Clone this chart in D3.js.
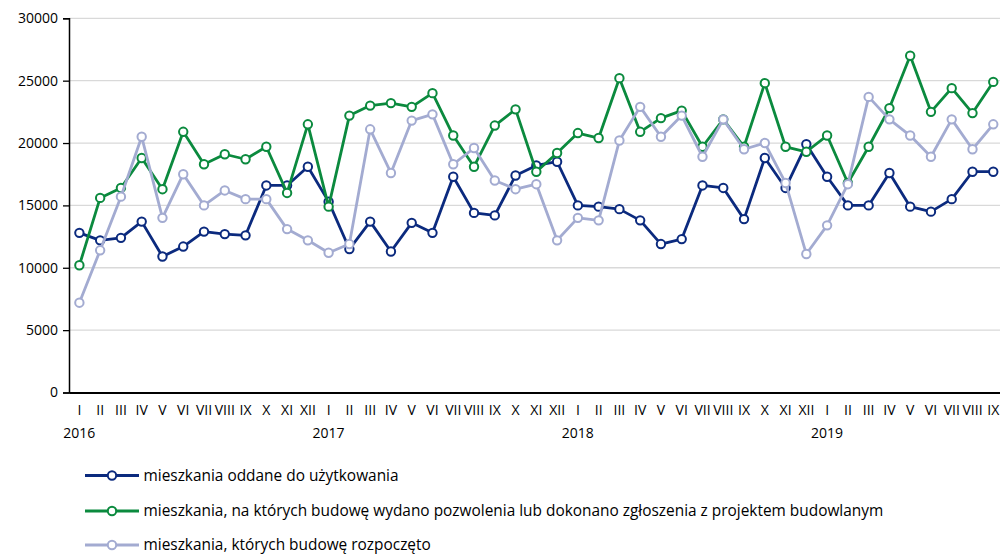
<!DOCTYPE html>
<html><head><meta charset="utf-8">
<script src="https://cdn.jsdelivr.net/npm/d3@7/dist/d3.min.js"></script>
<style>body{margin:0;background:#fff}svg{display:block}</style>
</head><body><svg id="c" width="1000" height="554"></svg>
<script>
const months = ["I","II","III","IV","V","VI","VII","VIII","IX","X","XI","XII"];
const years = ["2016","2017","2018","2019"];
const nPoints = 45;
const oddane = [12800,12200,12400,13700,10900,11700,12900,12700,12600,16600,16600,18100,
 15300,11500,13700,11300,13600,12800,17300,14400,14200,17400,18200,18500,
 15000,14900,14700,13800,11900,12300,16600,16400,13900,18800,16400,19900,
 17300,15000,15000,17600,14900,14500,15500,17700,17700];
const pozwolenia = [10200,15600,16400,18800,16300,20900,18300,19100,18700,19700,16000,21500,
 14900,22200,23000,23200,22900,24000,20600,18100,21400,22700,17700,19200,
 20800,20400,25200,20900,22000,22600,19700,21900,19700,24800,19700,19300,
 20600,16800,19700,22800,27000,22500,24400,22400,24900];
const rozpoczete = [7200,11400,15700,20500,14000,17500,15000,16200,15500,15500,13100,12200,
 11200,11900,21100,17600,21800,22300,18300,19600,17000,16300,16700,12200,
 14000,13800,20200,22900,20500,22200,18900,21900,19500,20000,16800,11100,
 13400,16700,23700,21900,20600,18900,21900,19500,21500];
const yTicks = [0,5000,10000,15000,20000,25000,30000];
const seriesNames = ["mieszkania oddane do użytkowania",
 "mieszkania, na których budowę wydano pozwolenia lub dokonano zgłoszenia z projektem budowlanym",
 "mieszkania, których budowę rozpoczęto"];

const colors = ["#0b2a7e","#0b8a3e","#a3abd1"];
const series = [oddane, pozwolenia, rozpoczete];

const svg = d3.select("#c");
const x0 = 69, step = 20.77, yTop = 18.3, yBot = 392.5;
const idx = d3.range(nPoints);
const x = d3.scaleBand().domain(idx).range([x0, x0 + step*nPoints]).padding(0);
const y = d3.scaleLinear().domain([0,30000]).range([yBot, yTop]);
const cx = i => x(i) + x.bandwidth()/2;
const font = "'Open Sans', 'DejaVu Sans', sans-serif";

// grid
svg.append("g").selectAll("line").data(yTicks.filter(d=>d>0)).join("line")
  .attr("x1", x0).attr("x2", 1000).attr("y1", d=>y(d)).attr("y2", d=>y(d))
  .attr("stroke", "#d9d9d9").attr("stroke-width", 1.3);

// y axis
const yAxis = d3.axisLeft(y).tickValues(yTicks).tickSize(6).tickPadding(5).tickFormat(d3.format("d"));
const gy = svg.append("g").attr("transform", `translate(${x0},0)`).call(yAxis);
gy.select(".domain").attr("stroke","#000").attr("stroke-width",1.5);
gy.selectAll(".tick line").attr("stroke","#000").attr("stroke-width",1.3);
gy.selectAll(".tick text").attr("font-family", font).attr("font-size", 14).attr("fill","#000");

// x axis
const xAxis = d3.axisBottom(x).tickSize(0).tickPadding(13).tickFormat(i => months[i % 12]);
const gx = svg.append("g").attr("transform", `translate(0,${yBot})`).call(xAxis);
gx.select(".domain").attr("stroke","#000").attr("stroke-width",2.2);
gx.selectAll(".tick text").attr("font-family", font).attr("font-size", 14).attr("fill","#000");

// year labels
svg.append("g").selectAll("text").data(years).join("text")
  .attr("x", (d,k) => cx(k*12)).attr("y", 437.5)
  .attr("text-anchor","middle").attr("font-family", font).attr("font-size", 14).attr("fill","#000")
  .text(d=>d);

// lines
const line = d3.line().x((d,i)=>cx(i)).y(d=>y(d));
series.forEach((s, k) => {
  const g = svg.append("g");
  g.append("path").datum(s).attr("d", line).attr("fill","none")
    .attr("stroke", colors[k]).attr("stroke-width", 2.8).attr("stroke-linejoin","round");
  g.selectAll("circle").data(s).join("circle")
    .attr("cx", (d,i)=>cx(i)).attr("cy", d=>y(d)).attr("r", 4.2)
    .attr("fill","#fff").attr("stroke", colors[k]).attr("stroke-width", 2);
});

// legend
const legY = [475.5, 511, 545];
const lg = svg.append("g").selectAll("g").data(seriesNames).join("g")
  .attr("transform", (d,k)=>`translate(0,${legY[k]})`);
lg.append("line").attr("x1", 85).attr("x2", 139).attr("y1",0).attr("y2",0)
  .attr("stroke",(d,k)=>colors[k]).attr("stroke-width",2.8);
lg.append("circle").attr("cx", 112).attr("cy",0).attr("r",4.2)
  .attr("fill","#fff").attr("stroke",(d,k)=>colors[k]).attr("stroke-width",2);
const lt = lg.append("text").attr("x", 143.5).attr("y", 5).attr("font-family", "'Open Sans', sans-serif")
  .attr("font-size", 14.5).attr("fill","#000").text(d=>d);
// fit font size so the long legend entry spans the same width as in the reference
const w = lt.nodes()[1].getComputedTextLength();
lt.attr("font-size", 14.5 * 740 / w);
</script></body></html>
